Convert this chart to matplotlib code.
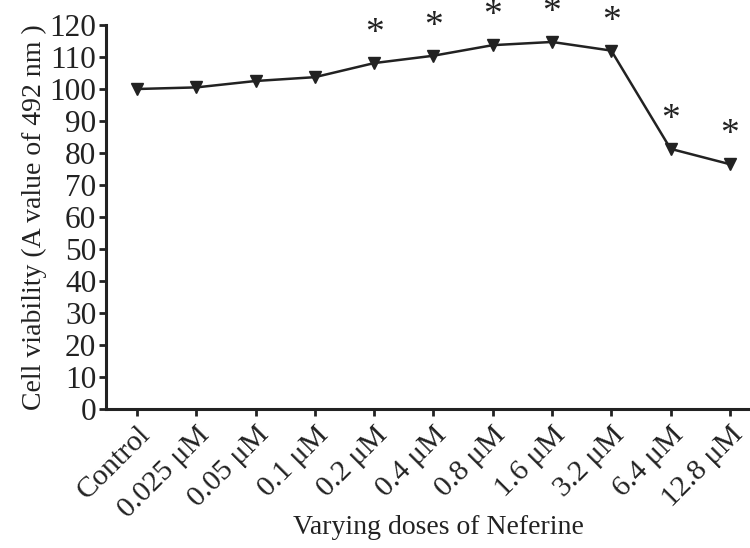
import matplotlib
matplotlib.use("Agg")
import matplotlib.pyplot as plt

categories = ["Control", "0.025 μM", "0.05 μM", "0.1 μM", "0.2 μM", "0.4 μM",
              "0.8 μM", "1.6 μM", "3.2 μM", "6.4 μM", "12.8 μM"]
viability = [100.0, 100.5, 102.5, 103.7, 108.1, 110.4, 113.7, 114.7, 112.0, 81.3, 76.5]
significant = [False, False, False, False, True, True, True, True, True, True, True]
y_ticks = list(range(0, 121, 10))

plt.rcParams['font.family'] = ['Liberation Serif', 'DejaVu Serif']

fig = plt.figure(figsize=(7.5, 5.48), dpi=100)
ax = fig.add_axes([106/750, (548-409)/548, 1 - 106/750, (409-25)/548])

x = list(range(len(categories)))
ax.plot(x, viability, color='#222222', lw=1.8, marker='v', markersize=9,
        markerfacecolor='#222222', markeredgecolor='#222222', clip_on=False, zorder=3)

for xi, yi, s in zip(x, viability, significant):
    if s:
        ax.annotate('*', (xi, yi), xytext=(0, 21), textcoords='offset points',
                    ha='center', va='center', fontsize=27, color='#222222',
                    annotation_clip=False)

ax.set_xlim(-0.523, 10.34)
ax.set_ylim(0, 120)
ax.set_yticks(y_ticks)
ax.set_yticklabels([str(v) for v in y_ticks], fontsize=22.5)
ax.set_xticks(x)
ax.set_xticklabels(categories, fontsize=21.5, rotation=45, ha='right',
                   rotation_mode='anchor')

for side in ['top', 'right']:
    ax.spines[side].set_visible(False)
for side in ['left', 'bottom']:
    ax.spines[side].set_linewidth(2.2)
    ax.spines[side].set_color('#222222')
ax.tick_params(axis='both', direction='out', length=5, width=2, color='#222222',
               labelcolor='#222222', pad=2)
ax.tick_params(axis='x', pad=4)

ax.set_xlabel('Varying doses of Neferine', fontsize=20, color='#222222')
ax.xaxis.set_label_coords(0.516, -0.275)
ax.set_ylabel('Cell viability (A value of 492 nm )', fontsize=20, color='#222222', labelpad=2)

fig.savefig('out.png', dpi=100)
